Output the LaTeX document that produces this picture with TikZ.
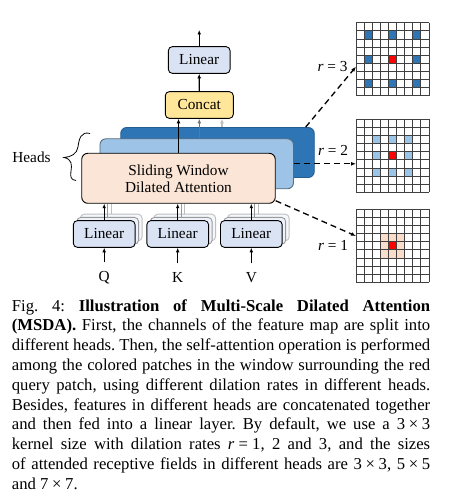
\documentclass[tikz,border=0pt]{standalone}
\usepackage{fontspec}
\setmainfont{Liberation Serif}
\usetikzlibrary{arrows.meta}
\frenchspacing

\definecolor{linfill}{HTML}{DAE3F3}
\definecolor{catfill}{HTML}{FFE699}
\definecolor{hdark}{HTML}{2E75B6}
\definecolor{hmid}{HTML}{9DC3E6}
\definecolor{hfront}{HTML}{FBE5D6}
\definecolor{hpeach}{HTML}{F9DCC9}

\newcommand{\tms}{\hspace{0.22em}×\hspace{0.22em}}

\begin{document}
\begin{tikzpicture}[x=1pt,y=-1pt,
    lbl/.style={font=\fontsize{15.3}{18}\selectfont, inner sep=0pt},
    box/.style={draw, line width=0.9pt, rounded corners=4pt, inner sep=0pt,
      minimum width=61.7pt, minimum height=26.7pt, fill=linfill, lbl},
    stackbox/.style={box, draw=black!40, fill=linfill!45},
    head/.style={draw, line width=0.9pt, rounded corners=6pt, inner sep=0pt,
      minimum width=193.5pt, minimum height=50pt, align=center, lbl},
    arr/.style={-{Latex[length=4.5pt,width=3.8pt]}, line width=1.1pt},
    dasharr/.style={-{Latex[length=5pt,width=4pt]}, line width=1.3pt, dash pattern=on 6pt off 4pt},
    capline/.style={anchor=base west, inner sep=0pt, font=\fontsize{16.67}{20}\selectfont}]
  \useasboundingbox (0,0) rectangle (460,502);

  % output side
  \node[box] (linout) at (199.2,60) {Linear};
  \node[box, fill=catfill, minimum width=68pt] (concat) at (199.3,105) {Concat};
  \coordinate (out) at (199.2,30);
  \draw[arr] (linout.north) -- (out);
  \draw[arr] (concat.north) -- (linout.south);

  % heads
  \node[head, fill=hdark, draw=hdark!80!black] (head3) at (217.5,152.5) {};
  \node[head, fill=hmid, draw=hmid!55!black] (head2) at (196.7,163.8) {};
  \node[head, fill=hfront] (head1) at (178.5,178.3) {Sliding Window\\[-1pt]Dilated Attention};
  \draw[arr] (head1.north) -- (head1.north |- concat.south);
  \draw[arr, black!55] (concat.south |- head2.north) -- (concat.south);
  \draw[arr, black!25] ([xshift=22.7pt]concat.south |- head3.north) -- ([xshift=22.7pt]concat.south);

  % heads label
  \node[lbl] (heads) at (31.5,157) {Heads};
  \draw[line width=0.8pt] (90,133.5) .. controls (81,131) and (79,139) .. (78,147)
    .. controls (77,154) and (71,157) .. (64,157.5)
    .. controls (72,159) and (72,165) .. (71,171)
    .. controls (70,177) and (71,180) .. (76,180.5);

  % input projections
  \foreach \nm/\xx/\lab in {q/104.2/Q, k/177.7/K, v/251.3/V} {
    \node[stackbox, draw=black!25, fill=linfill!30] (lin\nm3) at (\xx+7,227.5) {};
    \node[stackbox] (lin\nm2) at (\xx+3.5,230.8) {};
    \node[box] (lin\nm) at (\xx,234) {Linear};
    \node[lbl] (in\nm) at (\xx,277.7) {\lab};
    \draw[line width=1pt, black!25] (lin\nm3.north) -- (lin\nm3.north |- head1.south);
    \draw[line width=1pt, black!40] (lin\nm2.north) -- (lin\nm2.north |- head1.south);
    \draw[arr] (lin\nm.north) -- (lin\nm.north |- head1.south);
    \draw[arr] ([yshift=9pt]in\nm.north) -- (lin\nm.south);
  }

  % dilated windows
  \foreach \top/\d/\col in {22.7/3/hdark, 119.3/2/hmid, 209.3/1/hpeach} {
    \foreach \i in {-1,0,1}
      \foreach \j in {-1,0,1}
        \fill[\col] ({356+(4+\i*\d)*8.1},{\top+(4+\j*\d)*8.1}) rectangle ++(8.1,8.1);
    \fill[red] ({356+4*8.1},{\top+4*8.1}) rectangle ++(8.1,8.1);
    \foreach \k in {0,...,9} {
      \draw[black!75, line width=0.7pt] ({356+\k*8.1},\top) -- ++(0,72.9);
      \draw[black!75, line width=0.7pt] (356,{\top+\k*8.1}) -- ++(72.9,0);
    }
  }

  % dashed links
  \coordinate (w3) at (356,66.7);
  \coordinate (w2) at (356,163.8);
  \coordinate (w1) at (356,236);
  \draw[dasharr] ([xshift=-9pt]head3.north east) -- (w3);
  \draw[dasharr] (head2.east) -- (w2);
  \draw[dasharr] ([yshift=3pt]head1.south east) -- (w1);
  \node[lbl, fill=white, inner sep=0.5pt] (r3) at (332.5,66.7) {\textit{r}\hspace{0.25em}=\hspace{0.25em}3};
  \node[lbl] (r2) at (333,150) {\textit{r}\hspace{0.25em}=\hspace{0.25em}2};
  \node[lbl] (r1) at (333,245) {\textit{r}\hspace{0.25em}=\hspace{0.25em}1};

  % caption
  \node[capline] (cap1) at (11.7,311) {\makebox[418.3pt][s]{Fig. 4: \textbf{Illustration of Multi-Scale Dilated Attention}}};
  \node[capline] (cap2) at (11.7,330.8) {\makebox[418.3pt][s]{\textbf{(MSDA).} First, the channels of the feature map are split into}};
  \node[capline] (cap3) at (11.7,350.6) {\makebox[418.3pt][s]{different heads. Then, the self-attention operation is performed}};
  \node[capline] (cap4) at (11.7,370.4) {\makebox[418.3pt][s]{among the colored patches in the window surrounding the red}};
  \node[capline] (cap5) at (11.7,390.2) {\makebox[418.3pt][s]{query patch, using different dilation rates in different heads.}};
  \node[capline] (cap6) at (11.7,410) {\makebox[418.3pt][s]{Besides, features in different heads are concatenated together}};
  \node[capline] (cap7) at (11.7,429.8) {\makebox[418.3pt][s]{and then fed into a linear layer. By default, we use a 3\tms 3}};
  \node[capline] (cap8) at (11.7,449.6) {\makebox[418.3pt][s]{kernel size with dilation rates \textit{r}\hspace{0.25em}=\hspace{0.25em}1, 2 and 3, and the sizes}};
  \node[capline] (cap9) at (11.7,469.4) {\makebox[418.3pt][s]{of attended receptive fields in different heads are 3\tms 3, 5\tms 5}};
  \node[capline] (cap10) at (11.7,489.2) {and 7\tms 7.};
\end{tikzpicture}
\end{document}
